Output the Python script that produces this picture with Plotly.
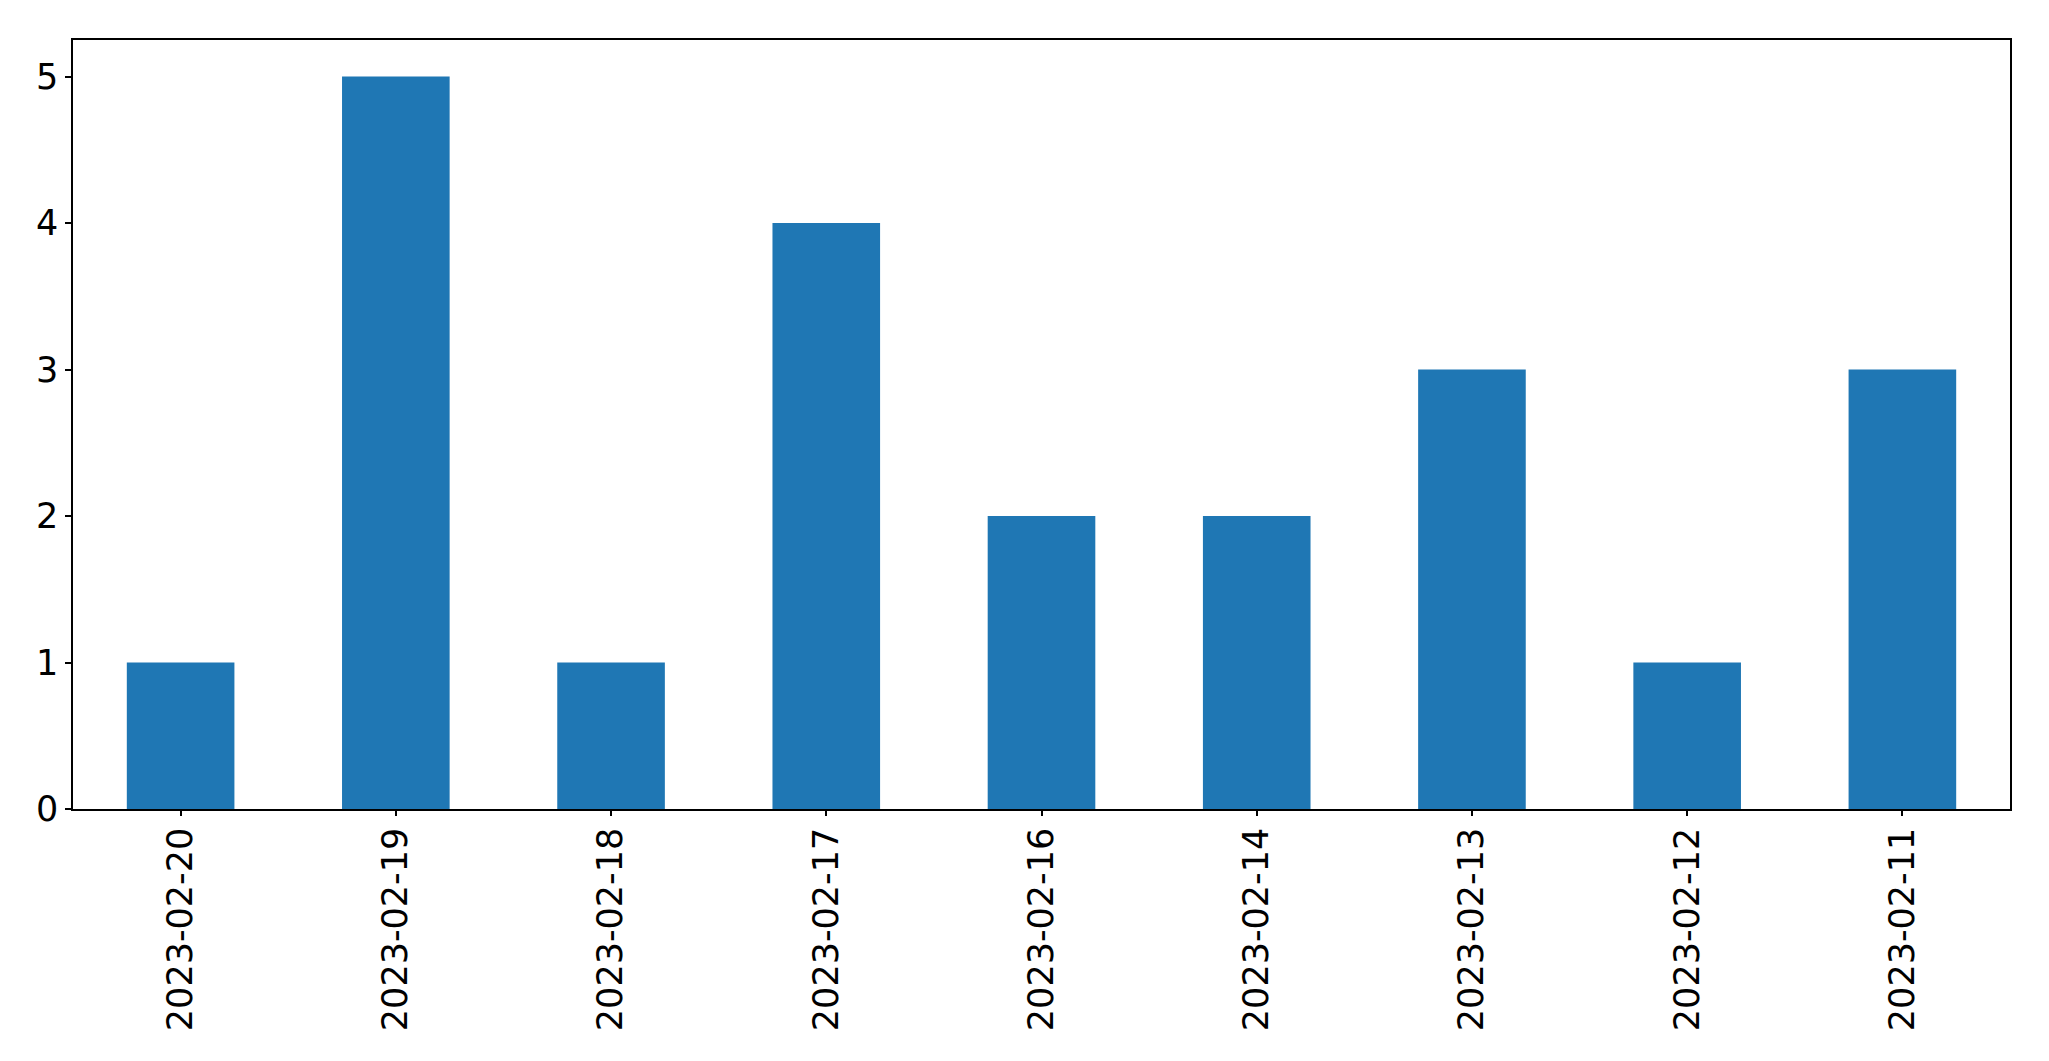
import plotly.graph_objects as go

dates = ["2023-02-20", "2023-02-19", "2023-02-18", "2023-02-17", "2023-02-16",
         "2023-02-14", "2023-02-13", "2023-02-12", "2023-02-11"]
counts = [1, 5, 1, 4, 2, 2, 3, 1, 3]
y_ticks = [0, 1, 2, 3, 4, 5]

fig = go.Figure(go.Bar(x=dates, y=counts, marker=dict(color="#1f77b4", line=dict(width=0)), width=0.5))

fig.update_layout(
    width=2049, height=1061,
    margin=dict(l=64.5, r=47.3, t=31.5, b=259.7, pad=0),
    plot_bgcolor="white", paper_bgcolor="white",
    font=dict(family="DejaVu Sans", size=35, color="black"),
    showlegend=False,
)
fig.update_xaxes(type="category", range=[-0.5, 8.5], tickangle=-90, automargin=False,
                 showline=True, linecolor="black", linewidth=1.5, mirror=True,
                 ticks="outside", ticklen=5, tickwidth=1.5, tickcolor="black",
                 ticklabelstandoff=-2,
                 showgrid=False, zeroline=False)
fig.update_yaxes(range=[0, 5.25], tickvals=y_ticks, automargin=False,
                 showline=True, linecolor="black", linewidth=1.5, mirror=True,
                 ticks="outside", ticklen=6, tickwidth=1.5, tickcolor="black",
                 showgrid=False, zeroline=False)

fig.write_html("out.html")
